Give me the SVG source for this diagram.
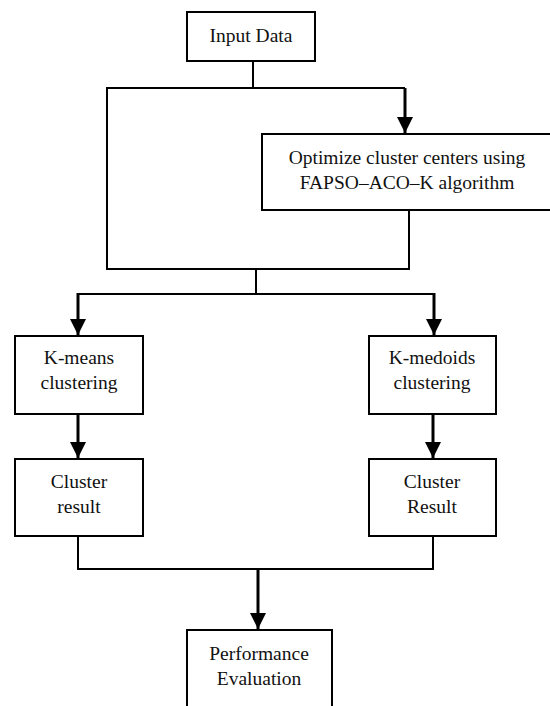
<svg xmlns="http://www.w3.org/2000/svg" width="550" height="706" viewBox="0 0 550 706">
<defs>
<style>
.box{fill:#fff;stroke:#000;stroke-width:2}
.ln{fill:none;stroke:#000;stroke-width:2}
.ar{fill:none;stroke:#000;stroke-width:3}
.t{font-family:"Liberation Serif","Times New Roman",serif;font-size:19.5px;fill:#111;text-anchor:middle}
</style>
<marker id="ah" markerUnits="userSpaceOnUse" markerWidth="16" markerHeight="16" viewBox="0 0 16 16" refX="16" refY="8" orient="auto">
<path d="M0,0 L16,8 L0,16 Z" fill="#000"/>
</marker>
</defs>
<rect width="550" height="706" fill="#fff"/>
<g id="connectors">
<path class="ln" d="M253,61 V88"/>
<path class="ln" d="M405,88 H107 V269 H409 V210"/>
<path class="ar" d="M405,88 V133" marker-end="url(#ah)"/>
<path class="ln" d="M256,269 V294"/>
<path class="ln" d="M78,294 H434"/>
<path class="ar" d="M78,293 V335" marker-end="url(#ah)"/>
<path class="ar" d="M434,293 V335" marker-end="url(#ah)"/>
<path class="ar" d="M78,414 V458" marker-end="url(#ah)"/>
<path class="ar" d="M433,414 V458" marker-end="url(#ah)"/>
<path class="ln" d="M78,536 V569 H433 V536"/>
<path class="ar" d="M258,569 V629" marker-end="url(#ah)"/>
</g>
<g id="input">
<rect class="box" x="187" y="12" width="128" height="49"/>
<text class="t" x="251" y="42">Input Data</text>
</g>
<g id="optimize">
<rect class="box" x="262" y="134" width="295" height="76"/>
<text class="t" x="407" y="164">Optimize cluster centers using</text>
<text class="t" x="407" y="189">FAPSO–ACO–K algorithm</text>
</g>
<g id="kmeans">
<rect class="box" x="15" y="336" width="128" height="78"/>
<text class="t" x="79" y="364">K-means</text>
<text class="t" x="79" y="389">clustering</text>
</g>
<g id="kmedoids">
<rect class="box" x="369" y="336" width="127" height="78"/>
<text class="t" x="432" y="364">K-medoids</text>
<text class="t" x="432" y="389">clustering</text>
</g>
<g id="result1">
<rect class="box" x="15" y="459" width="128" height="77"/>
<text class="t" x="79" y="488">Cluster</text>
<text class="t" x="79" y="513">result</text>
</g>
<g id="result2">
<rect class="box" x="369" y="459" width="127" height="77"/>
<text class="t" x="432" y="488">Cluster</text>
<text class="t" x="432" y="513">Result</text>
</g>
<g id="performance">
<rect class="box" x="187" y="630" width="145" height="90"/>
<text class="t" x="259" y="660">Performance</text>
<text class="t" x="259" y="685">Evaluation</text>
</g>
</svg>
